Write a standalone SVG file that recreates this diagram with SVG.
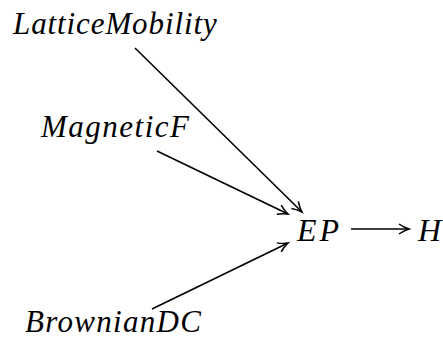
<svg xmlns="http://www.w3.org/2000/svg" width="443" height="339" viewBox="0 0 443 339">
<style>
.e{stroke:#000;stroke-width:1.6;fill:none}
</style>
<defs>
<marker id="ah" markerWidth="14" markerHeight="12" refX="11" refY="6" orient="auto" markerUnits="userSpaceOnUse">
<path d="M1,1 Q6,4.5 11,6 Q6,7.5 1,11" fill="none" stroke="#000" stroke-width="1.5"/>
</marker>
</defs>
<rect width="443" height="339" fill="#fff"/>
<g id="connectors">
<line class="e" x1="135" y1="48" x2="302" y2="212" marker-end="url(#ah)"/>
<line class="e" x1="157" y1="151" x2="288" y2="214" marker-end="url(#ah)"/>
<line class="e" x1="152" y1="309" x2="288" y2="243" marker-end="url(#ah)"/>
<line class="e" x1="351" y1="229" x2="409" y2="229" marker-end="url(#ah)"/>
</g>
<g id="LatticeMobility"><text x="13" y="34" font-family="Liberation Serif" font-style="italic" font-size="31" letter-spacing="0.9">LatticeMobility</text></g>
<g id="MagneticF"><text x="41" y="137" font-family="Liberation Serif" font-style="italic" font-size="31" letter-spacing="1.5">MagneticF</text></g>
<g id="EP"><text x="297" y="241" font-family="Liberation Serif" font-style="italic" font-size="32" letter-spacing="3">EP</text></g>
<g id="H"><text x="418" y="241" font-family="Liberation Serif" font-style="italic" font-size="32">H</text></g>
<g id="BrownianDC"><text x="25" y="332" font-family="Liberation Serif" font-style="italic" font-size="31" letter-spacing="1.3">BrownianDC</text></g>
</svg>
